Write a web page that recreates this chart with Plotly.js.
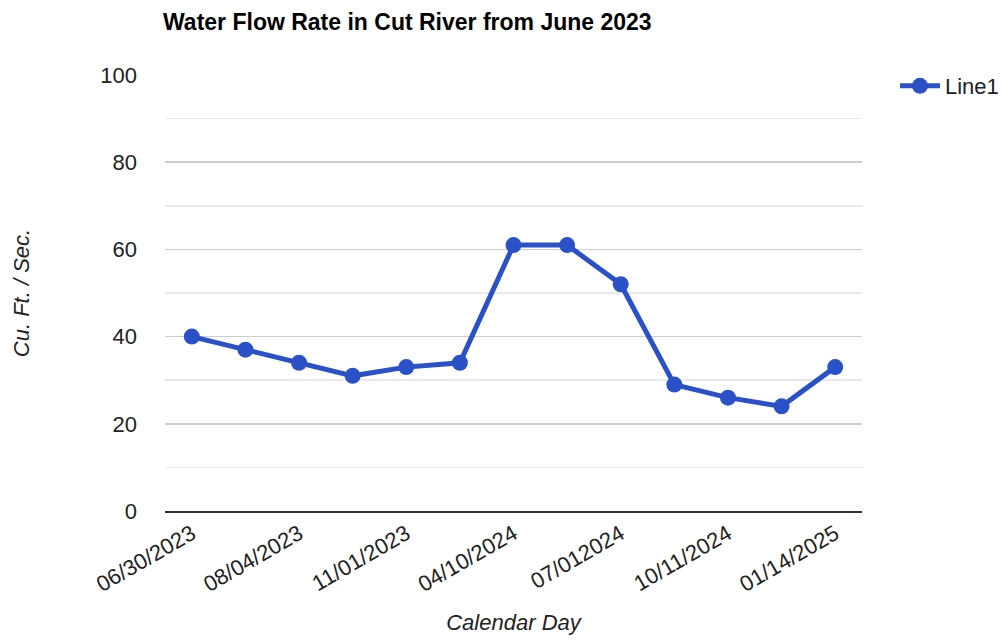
<!DOCTYPE html>
<html>
<head>
<meta charset="utf-8">
<script src="https://cdn.plot.ly/plotly-3.0.1.min.js"></script>
<style>html,body{margin:0;padding:0;background:#fff}#chart{width:1004px;height:641px}</style>
</head>
<body>
<div id="chart"></div>
<script>
// Calendar days (every other one is labelled on the axis in the reference)
var categories = ["06/30/2023","07/14/2023","08/04/2023","09/15/2023","11/01/2023","02/14/2024","04/10/2024","05/20/2024","07/012024","08/20/2024","10/11/2024","12/02/2024","01/14/2025"];
var flowValues = [40, 37, 34, 31, 33, 34, 61, 61, 52, 29, 26, 24, 33];
var shownTicks = ["06/30/2023","08/04/2023","11/01/2023","04/10/2024","07/012024","10/11/2024","01/14/2025"];
var yTicks = [0, 20, 40, 60, 80, 100];

var trace = {
  x: categories,
  y: flowValues,
  type: 'scatter',
  mode: 'lines+markers',
  name: 'Line1',
  line: {color: '#2a51c7', width: 5},
  marker: {color: '#2a51c7', size: 16}
};

var FONT = 'Liberation Sans, Arial, sans-serif';
var layout = {
  width: 1004, height: 641,
  margin: {l: 165, r: 142, t: 75, b: 130},
  paper_bgcolor: '#fff', plot_bgcolor: '#fff',
  font: {family: FONT, color: '#222', size: 22},
  title: {text: '<b>Water Flow Rate in Cut River from June 2023</b>', x: 163/1004, xanchor: 'left', xref: 'container', y: 1 - 22/641, yanchor: 'middle', yref: 'container', font: {family: FONT, size: 23, color: '#000'}},
  xaxis: {
    type: 'category', categoryorder: 'array', categoryarray: categories,
    range: [-0.5, 12.5],
    tickmode: 'array', tickvals: shownTicks, ticktext: shownTicks,
    tickangle: -30, showgrid: false, zeroline: false,
    showline: true, linecolor: '#333', linewidth: 1.5,
    tickfont: {size: 22, color: '#222'},
    automargin: false,
    title: {text: '<i>Calendar Day</i>', font: {size: 22, color: '#222'}, standoff: 19}
  },
  yaxis: {
    range: [0, 100], tickmode: 'array', tickvals: yTicks,
    showgrid: true, gridcolor: '#cccccc', gridwidth: 1.5,
    minor: {dtick: 10, showgrid: true, gridcolor: '#e9e9e9', gridwidth: 1.5},
    zeroline: false, showline: false,
    ticklabelstandoff: 27,
    tickfont: {size: 22, color: '#222'},
    automargin: false,
    title: {text: '<i>Cu. Ft. / Sec.</i>', font: {size: 22, color: '#222'}, standoff: 64}
  },
  showlegend: true,
  legend: {xref: 'container', yref: 'container', x: 895/1004, xanchor: 'left', y: 1 - 86/641, yanchor: 'middle', font: {size: 22, color: '#222'}, itemwidth: 40, bgcolor: 'rgba(0,0,0,0)'}
};

Plotly.newPlot('chart', [trace], layout, {displayModeBar: false, staticPlot: true});
</script>
</body>
</html>
